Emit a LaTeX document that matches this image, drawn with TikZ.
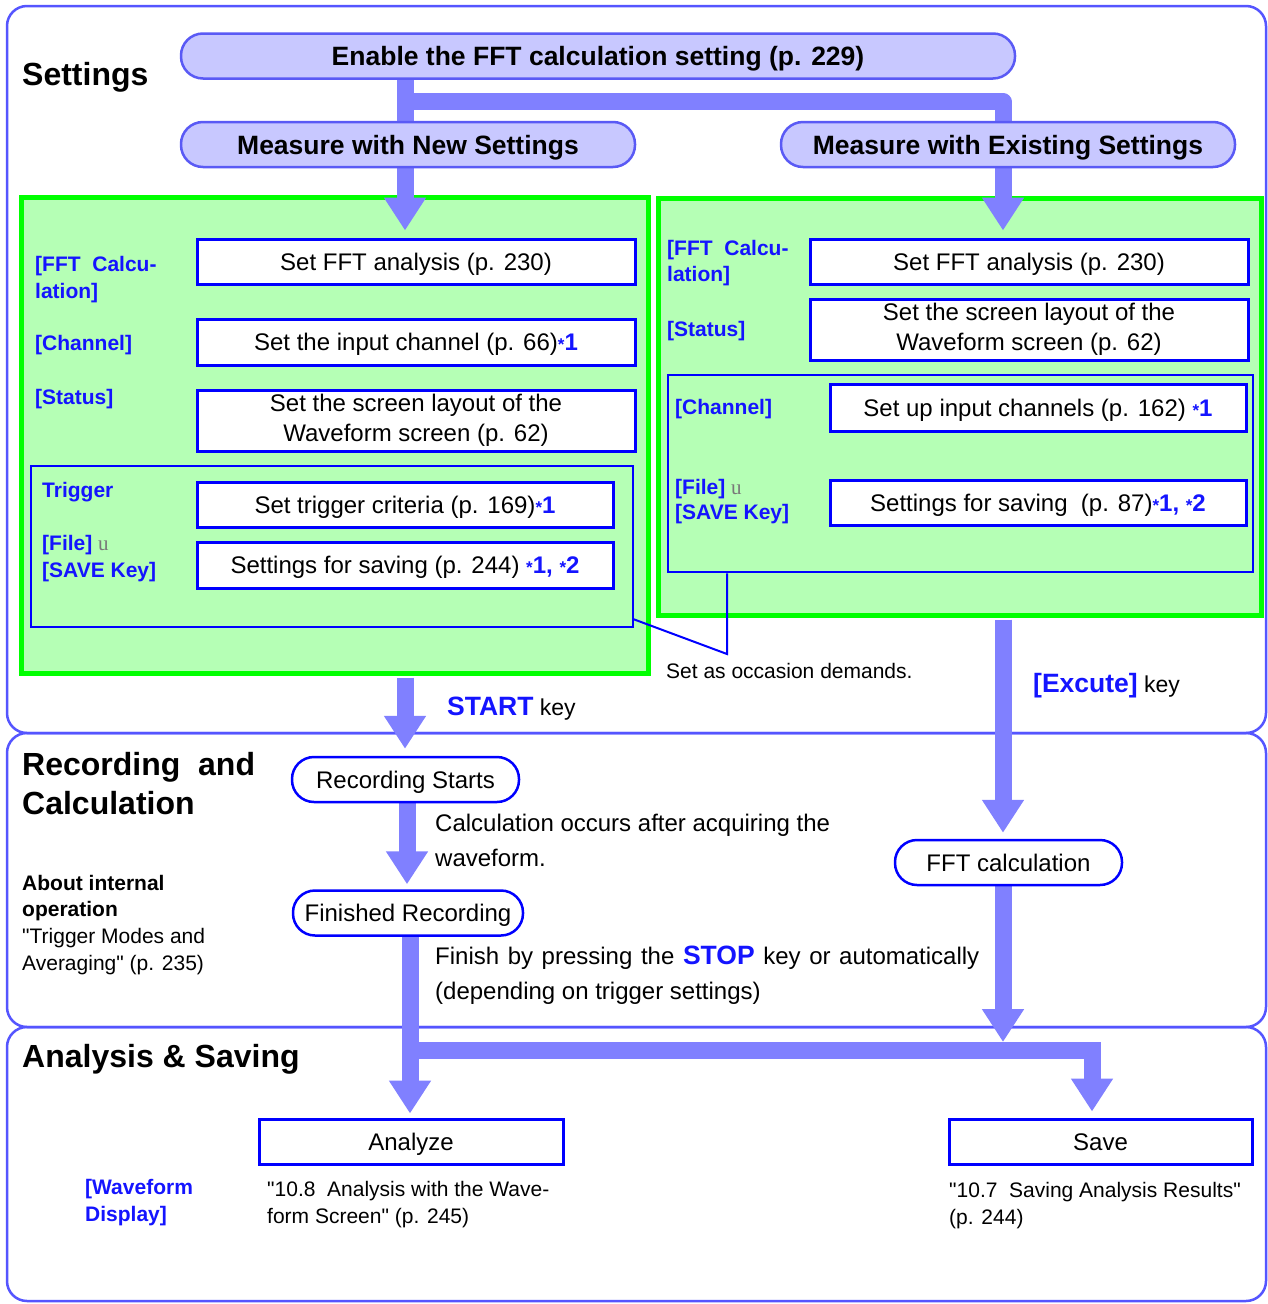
\documentclass[tikz,border=0pt]{standalone}
\usepackage{fontspec}
\setmainfont{Liberation Sans}[Ligatures=TeXOff]
\newfontfamily\serifu{Liberation Serif}
\usetikzlibrary{arrows.meta}
\definecolor{frameC}{RGB}{85,85,255}
\definecolor{pillB}{RGB}{90,90,245}
\definecolor{pillF}{RGB}{200,200,255}
\definecolor{arrowC}{RGB}{128,128,255}
\definecolor{greenF}{RGB}{181,255,181}
\definecolor{greenB}{RGB}{0,255,0}
\definecolor{boxB}{RGB}{0,0,255}
\definecolor{lblue}{RGB}{20,20,255}
\definecolor{ugray}{RGB}{120,120,120}
\newcommand\fs[2]{\fontsize{#1pt}{#2pt}\selectfont}
\newcommand\note[1]{{\color{lblue}\bfseries #1}}
\newcommand\as{{\fs{17}{17}*}}
\pgfdeclarelayer{bg}
\pgfdeclarelayer{arr}
\pgfsetlayers{bg,arr,main}
\tikzset{
 sect/.style={draw=frameC, line width=2.5pt, rounded corners=20pt, inner sep=0pt},
 pillA/.style={draw=pillB, fill=pillF, line width=2.5pt, rounded corners=22pt, minimum height=45pt, inner sep=0pt, font=\fs{26.5}{30}\bfseries, text height=19pt, text depth=0pt},
 pillW/.style={draw=boxB, fill=white, line width=2.5pt, rounded corners=22pt, minimum height=45pt, inner sep=0pt, font=\fs{24}{28}, text height=17pt, text depth=0pt},
 gbox/.style={draw=greenB, fill=greenF, line width=5pt, inner sep=0pt},
 grp/.style={draw=boxB, line width=2.5pt, inner sep=0pt},
 bbox/.style={draw=boxB, fill=white, line width=3pt, inner sep=0pt, align=center, font=\fs{24}{30}},
 one/.style={text height=17pt, text depth=0pt},
 lbl/.style={inner sep=0pt, anchor=west, text depth=0pt},
 hd/.style={lbl, font=\fs{32}{38}\bfseries, text height=23pt},
 bl/.style={lbl, text=lblue, font=\fs{21}{27}\bfseries, text height=15pt},
 tb/.style={lbl, font=\fs{21}{27}\bfseries, text height=15pt},
 tr/.style={lbl, font=\fs{21}{27}, text height=15pt},
 tm/.style={lbl, font=\fs{24}{30}, text height=17pt},
 call/.style={draw=boxB, line width=2pt},
 fatshaft/.style={draw=arrowC, line width=17pt},
 fatarrow/.style={fatshaft, -{Triangle[width=40pt,length=33pt]}}
}
\begin{document}
\begin{tikzpicture}[x=1pt,y=-1pt]
\useasboundingbox (0,0) rectangle (1268,1304);
% columns for the arrows
\coordinate (colL) at (405,0);
\coordinate (colM) at (407,0);
\coordinate (colL2) at (410,0);
\coordinate (colR) at (1003,0);
\coordinate (colS) at (1092,0);
\coordinate (barTop) at (0,1042);
\begin{pgfonlayer}{bg}
\fill[white] (0,0) rectangle (1268,1304);
\node[sect, minimum width=1259pt, minimum height=727pt] (secS) at (636.5,369.5) {};
\node[sect, minimum width=1259pt, minimum height=294pt] (secR) at (636.5,880) {};
\node[sect, minimum width=1259pt, minimum height=274pt] (secA) at (636.5,1164) {};
\node[gbox, minimum width=627pt, minimum height=476pt] (gleft) at (334.5,435) {};
\node[gbox, minimum width=603pt, minimum height=417pt] (gright) at (959.5,406.5) {};
\end{pgfonlayer}
% headings
\node[hd] (tS) at (22,74) {Settings};
\node[hd] (tR1) at (22,764) {Recording\ \ and};
\node[hd] (tR2) at (22,802.5) {Calculation};
\node[hd] (tA) at (22,1056) {Analysis \& Saving};
% pills
\node[pillA, minimum width=834pt] (enable) at (598,56) {Enable the FFT calculation setting (p. 229)};
\node[pillA, minimum width=454pt] (newset) at (408,144.5) {Measure with New Settings};
\node[pillA, minimum width=454pt] (oldset) at (1008,144.5) {Measure with Existing Settings};
% groups
\node[grp, minimum width=602pt, minimum height=161pt] (grpL) at (332,546.5) {};
\node[grp, minimum width=585pt, minimum height=197pt] (grpR) at (960.5,473.5) {};
% left boxes
\node[bbox, one, minimum width=438pt, minimum height=45pt] (fft1) at (416,261.5) {Set FFT analysis (p. 230)};
\node[bbox, one, minimum width=438pt, minimum height=46pt] (chan1) at (416,342) {Set the input channel (p. 66)\note{\as1}};
\node[bbox, minimum width=438pt, minimum height=61pt] (stat1) at (416,420.5) {Set the screen layout of the\\Waveform screen (p. 62)};
\node[bbox, one, minimum width=416pt, minimum height=45pt] (trig1) at (405,504.5) {Set trigger criteria (p. 169)\note{\as1}};
\node[bbox, one, minimum width=416pt, minimum height=46pt] (save1) at (405,565) {Settings for saving (p. 244) \note{\as1, \as2}};
% right boxes
\node[bbox, one, minimum width=438pt, minimum height=45pt] (fft2) at (1029,261.5) {Set FFT analysis (p. 230)};
\node[bbox, minimum width=438pt, minimum height=61pt] (stat2) at (1029,329.5) {Set the screen layout of the\\Waveform screen (p. 62)};
\node[bbox, one, minimum width=416pt, minimum height=47pt] (chan2) at (1038,407.5) {Set up input channels (p. 162) \note{\as1}};
\node[bbox, one, minimum width=416pt, minimum height=45pt] (save2) at (1038,502.5) {Settings for saving\ \ (p. 87)\note{\as1, \as2}};
% left labels
\node[bl] (lF1) at (35,264) {[FFT\ \ Calcu-};
\node[bl] (lF2) at (35,291) {lation]};
\node[bl] (lC) at (35,343) {[Channel]};
\node[bl] (lS) at (35,397) {[Status]};
\node[bl] (lT) at (42,490) {Trigger};
\node[bl] (lFi) at (42,543) {[File] {\serifu\mdseries\color{ugray}u}};
\node[bl] (lSK) at (42,570) {[SAVE Key]};
% right labels
\node[bl] (rF1) at (667,248) {[FFT\ \ Calcu-};
\node[bl] (rF2) at (667,274) {lation]};
\node[bl] (rS) at (667,329) {[Status]};
\node[bl] (rC) at (675,407) {[Channel]};
\node[bl] (rFi) at (675,487) {[File] {\serifu\mdseries\color{ugray}u}};
\node[bl] (rSK) at (675,512) {[SAVE Key]};
% callout
\coordinate (cA) at (633,619);
\coordinate (cB) at (727,654);
\draw[call] (cA) -- (cB) -- (cB |- grpR.south);
\node[tr] (occ) at (666,671) {Set as occasion demands.};
% keys
\node[lbl, text height=19pt, font=\fs{23}{28}] (startk) at (447,706) {{\color{lblue}\bfseries\fs{26.5}{28}START} key};
\node[lbl, text height=19pt, font=\fs{23}{28}] (exck) at (1033,683) {{\color{lblue}\bfseries\fs{26.5}{28}[Excute]} key};
% recording section
\node[pillW, minimum width=227pt] (recst) at (405.5,779.5) {Recording Starts};
\node[pillW, minimum width=230pt] (fin) at (408,913) {Finished Recording};
\node[pillW, minimum width=227pt] (fftc) at (1008.5,862.5) {FFT calculation};
\node[tm] (calc1) at (435,823) {Calculation occurs after acquiring the};
\node[tm] (calc2) at (435,858) {waveform.};
\node[tm] (fin1) at (435,956) {\spaceskip=8.6pt Finish by pressing the {\color{lblue}\bfseries\fs{26.5}{28}STOP} key or automatically};
\node[tm] (fin2) at (435,991) {(depending on trigger settings)};
\node[tb] (ab1) at (22,883) {About internal};
\node[tb] (ab2) at (22,909) {operation};
\node[tr] (ab3) at (22,936) {"Trigger Modes and};
\node[tr] (ab4) at (22,963) {Averaging" (p. 235)};
% analysis section
\node[bbox, one, minimum width=304pt, minimum height=45pt] (analyze) at (411,1141.5) {Analyze};
\node[bbox, one, minimum width=303pt, minimum height=45pt] (save) at (1100.5,1141.5) {Save};
\node[bl] (wd1) at (85,1187) {[Waveform};
\node[bl] (wd2) at (85,1214) {Display]};
\node[tr] (an1) at (267,1189) {"10.8\ \ Analysis with the Wave-};
\node[tr] (an2) at (267,1216) {form Screen" (p. 245)};
\node[tr] (sv1) at (949,1190) {"10.7\ \ Saving Analysis Results"};
\node[tr] (sv2) at (949,1217) {(p. 244)};
% arrows
\begin{pgfonlayer}{arr}
\draw[fatshaft] (enable.south -| colL) -- (newset.north -| colL);
\draw[fatshaft, line join=round] (enable.south -| colL) ++(0,22) -| (oldset.north -| colR);
\draw[fatarrow, shorten >=7pt] (newset.south -| colL) -- (fft1.north -| colL);
\draw[fatarrow, shorten >=7pt] (oldset.south -| colR) -- (fft2.north -| colR);
\draw[fatarrow, shorten >=7pt, shorten <=2pt] (gleft.south -| colL) -- (recst.north -| colL);
\draw[fatarrow, shorten >=6pt, shorten <=2pt] (gright.south -| colR) -- (fftc.north -| colR);
\draw[fatarrow, shorten >=5pt] (recst.south -| colM) -- (fin.north -| colM);
\draw[fatarrow, shorten >=4pt] (fin.south -| colL2) -- (analyze.north -| colL2);
\draw[fatarrow, line join=miter, shorten >=6pt] (fin.south -| colL2) ++(0,114) -| (save.north -| colS);
\draw[fatarrow] (fftc.south -| colR) -- (colR |- barTop);
\end{pgfonlayer}
\end{tikzpicture}
\end{document}
